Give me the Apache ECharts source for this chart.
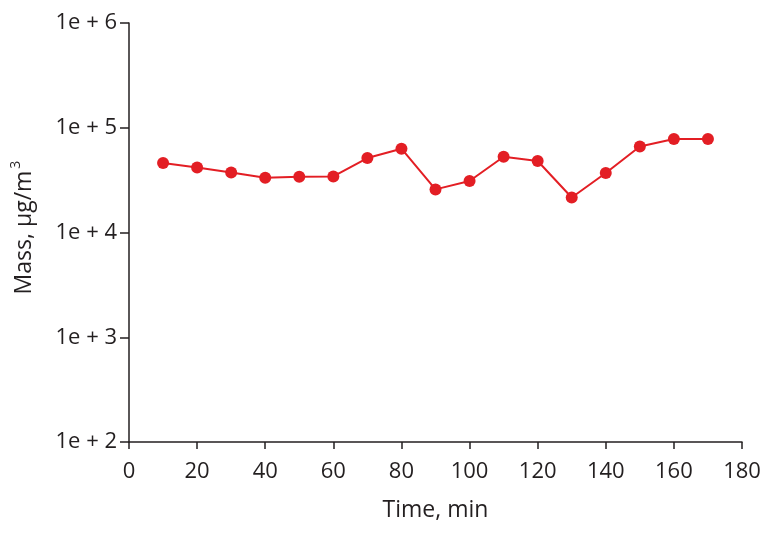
<!DOCTYPE html>
<html><head><meta charset="utf-8">
<script src="https://cdn.jsdelivr.net/npm/echarts@6/dist/echarts.min.js"></script>
<style>html,body{margin:0;padding:0;background:#fff}#c{width:769px;height:534px}</style>
</head><body><div id="c"></div>
<script>
const times = [10,20,30,40,50,60,70,80,90,100,110,120,130,140,150,160,170];
const mass = [46000,41800,37400,33300,34100,34300,51400,63100,25800,31000,52900,48100,21600,37000,66300,78000,78000];
const xTitle = 'Time, min';
const yTitle = 'Mass, µg/m{sup|3}';
const FONT = '"Open Sans", sans-serif';
const chart = echarts.init(document.getElementById('c'));
chart.setOption({
  animation:false,
  grid:{left:129,right:27,top:23,bottom:92,containLabel:false,outerBoundsMode:'none'},
  xAxis:{type:'value',min:0,max:180,interval:20,
    name:xTitle,nameLocation:'middle',nameGap:57,
    nameTextStyle:{fontFamily:FONT,fontSize:23,color:'#231f20'},
    axisLine:{lineStyle:{color:'#231f20',width:1.5}},
    axisTick:{show:true,length:7,lineStyle:{color:'#231f20',width:1.5}},
    axisLabel:{fontFamily:FONT,fontSize:22,color:'#231f20',margin:19,hideOverlap:false},
    splitLine:{show:false}},
  yAxis:{type:'log',logBase:10,min:100,max:1000000,
    name:yTitle,nameLocation:'middle',nameGap:90,
    nameTextStyle:{fontFamily:FONT,fontSize:23,color:'#231f20',padding:[0,0,0,10],
      rich:{sup:{fontFamily:FONT,fontSize:14,color:'#231f20',verticalAlign:'top',padding:[0,0,16,2]}}},
    axisLine:{show:true,lineStyle:{color:'#231f20',width:1.5}},
    axisTick:{show:true,length:9,lineStyle:{color:'#231f20',width:1.5}},
    axisLabel:{fontFamily:FONT,fontSize:22,color:'#231f20',margin:12,
      formatter:v=>'1e + '+Math.round(Math.log10(v))},
    splitLine:{show:false},minorTick:{show:false}},
  series:[{type:'line',data:times.map((t,i)=>[t,mass[i]]),
    symbol:'circle',symbolSize:12,
    lineStyle:{color:'#e31e24',width:2},
    itemStyle:{color:'#e31e24'}}]
});
</script></body></html>
